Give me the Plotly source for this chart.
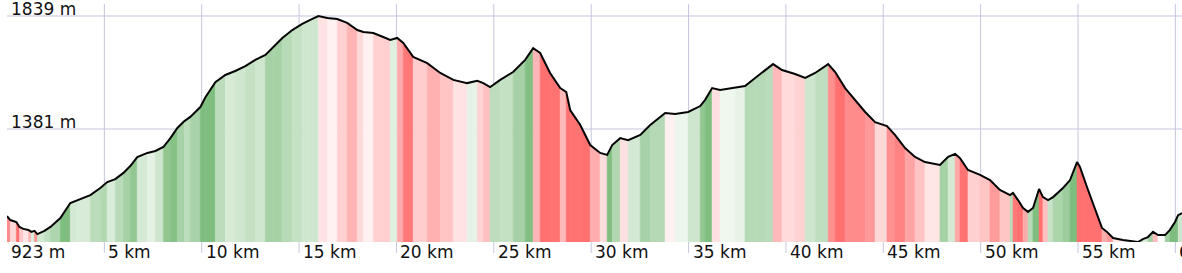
import plotly.graph_objects as go

# ---- data ----
dist_km = [0.0, 0.17, 0.48, 0.64, 0.84, 1.10, 1.25, 1.41, 1.56, 1.92, 2.23, 2.74, 3.25, 3.61,
           4.28, 4.79, 5.15, 5.56, 5.98, 6.33, 6.69, 7.21, 7.62, 8.03, 8.39, 8.75, 9.11, 9.41,
           9.93, 10.19, 10.7, 11.21, 11.72, 12.24, 12.75, 13.27, 13.62, 14.14, 14.65, 15.16,
           15.68, 15.99, 16.45, 16.96, 17.47, 17.99, 18.3, 18.81, 19.32, 19.68, 20.04, 20.35,
           20.86, 21.58, 22.25, 22.92, 23.63, 24.15, 24.46, 24.81, 25.33, 25.99, 26.61, 27.02,
           27.38, 27.89, 28.41, 28.72, 28.92, 29.44, 29.95, 30.46, 30.82, 31.08, 31.49, 31.9,
           32.52, 33.03, 33.8, 34.31, 34.98, 35.6, 35.85, 36.21, 36.62, 37.39, 37.9, 38.42,
           38.93, 39.34, 39.8, 40.47, 40.99, 41.5, 42.17, 42.53, 43.04, 43.55, 44.07, 44.58,
           45.19, 45.6, 46.12, 46.63, 47.14, 47.91, 48.33, 48.69, 48.94, 49.35, 49.97, 50.48,
           50.99, 51.51, 51.66, 51.92, 52.18, 52.43, 52.69, 53.0, 53.2, 53.46, 53.72, 54.23,
           54.59, 54.95, 55.1, 55.46, 55.87, 56.23, 56.49, 56.8, 57.31, 57.82, 58.08, 58.33,
           58.59, 58.85, 59.11, 59.47, 59.72, 59.98, 60.14, 60.34]
elev_m = [1028, 1012, 1004, 984, 976, 972, 964, 968, 955, 968, 984, 1020, 1081, 1093,
          1113, 1142, 1166, 1178, 1203, 1231, 1267, 1284, 1292, 1308, 1344, 1385, 1413, 1430,
          1470, 1510, 1571, 1600, 1616, 1636, 1661, 1681, 1709, 1750, 1782, 1807,
          1827, 1839, 1831, 1827, 1811, 1782, 1774, 1770, 1754, 1742, 1750, 1730,
          1673, 1648, 1608, 1580, 1567, 1576, 1567, 1551, 1580, 1612, 1661, 1709,
          1689, 1608, 1547, 1531, 1458, 1397, 1316, 1284, 1276, 1316, 1344, 1336,
          1357, 1397, 1446, 1442, 1450, 1474, 1499, 1547, 1539, 1547, 1555, 1588,
          1620, 1644, 1620, 1604, 1588, 1608, 1644, 1612, 1547, 1499, 1450, 1409,
          1393, 1357, 1304, 1268, 1247, 1235, 1268, 1280, 1263, 1215, 1195, 1174,
          1134, 1113, 1122, 1093, 1061, 1045, 1061, 1138, 1105, 1093, 1105, 1142,
          1174, 1247, 1227, 1146, 1053, 980, 964, 939, 931, 927, 923, 935,
          943, 964, 951, 951, 972, 1004, 1032, 1040]
x_tick_km = [5, 10, 15, 20, 25, 30, 35, 40, 45, 50, 55, 60]
x_tick_text = ["5 km", "10 km", "15 km", "20 km", "25 km", "30 km", "35 km",
               "40 km", "45 km", "50 km", "55 km", "60 km"]
y_tick_m = [923, 1381, 1839]
y_tick_text = ["923 m", "1381 m", "1839 m"]

# ---- styling ----
Y_MIN = 923
Y_TOP = 1887.6
X_MAX = 60.34
GRID = "#c6c6de"
TXT = "#111111"
FONT = "DejaVu Sans"
FS = 17
GREEN = (128, 190, 128)
RED = (255, 112, 112)


def grade_color(de, dk):
    g = de / (dk * 10.0)  # percent
    t = min(abs(g) / 12.0, 1.0) ** 0.85
    base = GREEN if g >= 0 else RED
    c = [round(255 + (b - 255) * t) for b in base]
    return "rgb(%d,%d,%d)" % tuple(c)


fig = go.Figure()

for i in range(len(dist_km) - 1):
    d0, d1 = dist_km[i], dist_km[i + 1]
    e0, e1 = elev_m[i], elev_m[i + 1]
    col = grade_color(e1 - e0, d1 - d0)
    fig.add_trace(go.Scatter(
        x=[d0, d0, d1, d1], y=[Y_MIN, e0, e1, Y_MIN],
        mode="lines", fill="toself", fillcolor=col,
        line=dict(width=0.6, color=col), hoverinfo="skip", showlegend=False))

fig.add_trace(go.Scatter(
    x=dist_km, y=elev_m, mode="lines",
    line=dict(color="#050505", width=2), hoverinfo="skip", showlegend=False))

shapes = []
for k in x_tick_km:
    shapes.append(dict(type="line", xref="x", yref="paper", x0=k, x1=k,
                       y0=-0.046, y1=1, line=dict(color=GRID, width=1), layer="below"))
for m in y_tick_m:
    shapes.append(dict(type="line", xref="paper", yref="y", x0=0, x1=1,
                       y0=m, y1=m, line=dict(color=GRID, width=1), layer="below"))

annotations = []
for m, t in zip(y_tick_m, y_tick_text):
    if m == Y_MIN:
        annotations.append(dict(x=0, y=m, xref="x", yref="y", text=t, showarrow=False,
                                xanchor="left", yanchor="top", xshift=2, yshift=2,
                                font=dict(family=FONT, size=FS, color=TXT)))
    else:
        annotations.append(dict(x=0, y=m, xref="x", yref="y", text=t, showarrow=False,
                                xanchor="left", yanchor="bottom", xshift=2, yshift=-5,
                                font=dict(family=FONT, size=FS, color=TXT)))
for k, t in zip(x_tick_km, x_tick_text):
    annotations.append(dict(x=k, y=Y_MIN, xref="x", yref="y", text=t, showarrow=False,
                            xanchor="left", yanchor="top", xshift=2, yshift=2,
                            font=dict(family=FONT, size=FS, color=TXT)))

fig.update_layout(
    width=1182, height=273,
    margin=dict(l=6.6, r=0, t=4, b=31, pad=0),
    paper_bgcolor="white", plot_bgcolor="white",
    xaxis=dict(range=[0, X_MAX], visible=False, fixedrange=True),
    yaxis=dict(range=[Y_MIN, Y_TOP], visible=False, fixedrange=True),
    shapes=shapes, annotations=annotations, showlegend=False,
)

fig.write_html("out.html")
